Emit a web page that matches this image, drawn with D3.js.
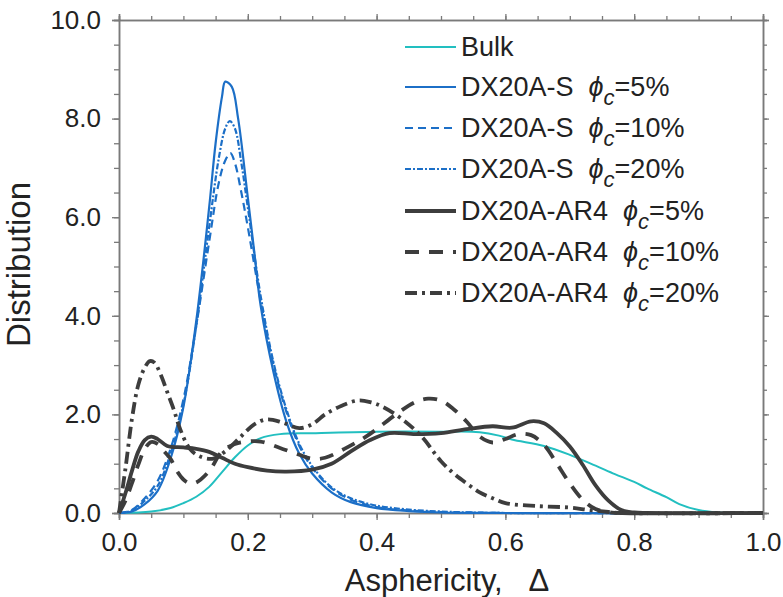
<!DOCTYPE html>
<html><head><meta charset="utf-8">
<script src="https://cdn.jsdelivr.net/npm/d3@7"></script>
<style>body{margin:0;background:#fff}svg{display:block}text{font-family:"Liberation Sans",Arial,sans-serif;fill:#222}</style>
</head><body><svg id="c" width="783" height="597"></svg>
<script>
// ---- data ----
const xTicks = [0, 0.2, 0.4, 0.6, 0.8, 1.0];
const yTicks = [0, 2, 4, 6, 8, 10];
const legendLabels = ["Bulk", "DX20A-S", "DX20A-S", "DX20A-S", "DX20A-AR4", "DX20A-AR4", "DX20A-AR4"];
const legendPhi = [null, "5%", "10%", "20%", "5%", "10%", "20%"];

const bulk = [[0,0],[0.05,0.03],[0.08,0.1],[0.1,0.2],[0.12,0.33],[0.14,0.53],[0.16,0.83],[0.18,1.13],[0.2,1.37],[0.22,1.52],[0.25,1.6],[0.3,1.62],[0.4,1.65],[0.5,1.65],[0.56,1.64],[0.59,1.57],[0.61,1.49],[0.66,1.36],[0.7,1.18],[0.74,0.96],[0.77,0.79],[0.8,0.63],[0.82,0.5],[0.85,0.32],[0.87,0.18],[0.9,0.06],[0.93,0.01],[0.95,0],[1.0,0]];
const s5 = [[0,0],[0.02,0.03],[0.04,0.18],[0.06,0.45],[0.08,1.1],[0.1,2.15],[0.12,3.9],[0.14,6.2],[0.15,7.5],[0.16,8.45],[0.165,8.75],[0.175,8.65],[0.185,8.0],[0.2,6.4],[0.21,5.3],[0.22,4.2],[0.24,2.85],[0.26,1.85],[0.28,1.2],[0.3,0.8],[0.33,0.42],[0.36,0.22],[0.4,0.1],[0.45,0.04],[0.5,0.01],[0.6,0],[1.0,0]];
const s10 = [[0,0],[0.02,0.06],[0.04,0.3],[0.06,0.65],[0.08,1.3],[0.1,2.3],[0.12,3.8],[0.14,5.5],[0.155,6.7],[0.165,7.15],[0.173,7.3],[0.18,7.1],[0.19,6.5],[0.2,5.8],[0.22,4.3],[0.24,3.0],[0.26,2.05],[0.28,1.36],[0.3,0.92],[0.33,0.5],[0.36,0.27],[0.4,0.12],[0.45,0.05],[0.5,0.02],[0.6,0],[1.0,0]];
const s20 = [[0,0],[0.02,0.05],[0.04,0.25],[0.06,0.55],[0.08,1.2],[0.1,2.2],[0.12,3.8],[0.14,5.8],[0.155,7.2],[0.165,7.8],[0.172,7.95],[0.18,7.8],[0.19,7.1],[0.2,6.2],[0.22,4.4],[0.24,3.05],[0.26,2.1],[0.28,1.4],[0.3,0.95],[0.33,0.52],[0.36,0.3],[0.4,0.15],[0.45,0.07],[0.5,0.03],[0.55,0.01],[0.6,0],[1.0,0]];
const a5 = [[0,0],[0.01,0.4],[0.02,0.85],[0.03,1.25],[0.04,1.48],[0.05,1.55],[0.06,1.5],[0.075,1.36],[0.1,1.33],[0.12,1.3],[0.14,1.24],[0.16,1.12],[0.18,1.0],[0.2,0.93],[0.23,0.86],[0.26,0.84],[0.3,0.88],[0.33,1.0],[0.36,1.25],[0.39,1.48],[0.42,1.62],[0.46,1.6],[0.5,1.62],[0.54,1.7],[0.58,1.76],[0.61,1.73],[0.64,1.86],[0.66,1.82],[0.68,1.62],[0.7,1.35],[0.72,0.98],[0.74,0.56],[0.76,0.25],[0.78,0.06],[0.8,0.01],[0.82,0],[1.0,0]];
const a10 = [[0,0],[0.01,0.25],[0.02,0.6],[0.03,0.98],[0.04,1.3],[0.05,1.44],[0.06,1.4],[0.07,1.25],[0.08,1.1],[0.09,0.85],[0.1,0.68],[0.11,0.6],[0.12,0.62],[0.14,0.85],[0.16,1.25],[0.18,1.4],[0.2,1.45],[0.22,1.45],[0.25,1.32],[0.28,1.18],[0.3,1.1],[0.32,1.12],[0.35,1.3],[0.38,1.52],[0.4,1.7],[0.43,2.0],[0.46,2.25],[0.48,2.32],[0.5,2.28],[0.52,2.1],[0.54,1.85],[0.56,1.55],[0.58,1.43],[0.6,1.5],[0.62,1.6],[0.64,1.58],[0.66,1.38],[0.68,1.0],[0.7,0.6],[0.72,0.27],[0.74,0.08],[0.76,0.02],[0.78,0],[1.0,0]];
const a20 = [[0,0],[0.01,0.9],[0.02,1.9],[0.03,2.6],[0.04,2.95],[0.048,3.08],[0.055,3.05],[0.065,2.8],[0.075,2.45],[0.085,2.1],[0.095,1.7],[0.11,1.3],[0.125,1.15],[0.145,1.1],[0.165,1.25],[0.19,1.56],[0.21,1.8],[0.23,1.9],[0.255,1.83],[0.28,1.72],[0.3,1.8],[0.32,2.0],[0.345,2.17],[0.37,2.28],[0.39,2.25],[0.41,2.15],[0.44,1.9],[0.47,1.55],[0.5,1.05],[0.52,0.8],[0.54,0.6],[0.56,0.42],[0.58,0.3],[0.6,0.2],[0.65,0.14],[0.7,0.11],[0.73,0.06],[0.76,0.02],[0.78,0],[1.0,0]];

// ---- styles ----
const TEAL = "#22bfc0", BLUE = "#1c6fc7", DARK = "#3d3d3d";
const series = [
  {d: bulk, color: TEAL, w: 2, dash: null},
  {d: s5, color: BLUE, w: 2.2, dash: null},
  {d: s10, color: BLUE, w: 2.2, dash: "8,5"},
  {d: s20, color: BLUE, w: 2.2, dash: "6,2,2,2"},
  {d: a5, color: DARK, w: 3.8, dash: null},
  {d: a10, color: DARK, w: 3.8, dash: "14,10"},
  {d: a20, color: DARK, w: 3.8, dash: "12,5,3,5"}
];

const L = 119, R = 763, T = 20, B = 513;
const svg = d3.select("#c");
const x = d3.scaleLinear().domain([0, 1]).range([L, R]);
const y = d3.scaleLinear().domain([0, 10]).range([B, T]);
const AX = "#7a7a7a";
const FF = '"Liberation Sans", Arial, sans-serif';

// axes
const gx = svg.append("g").attr("transform", `translate(0,${B})`)
  .call(d3.axisBottom(x).tickValues(d3.range(0, 1.0001, 0.05)).tickSize(5).tickFormat(""));
const gxl = svg.append("g").attr("transform", `translate(0,${B})`)
  .call(d3.axisBottom(x).tickValues(xTicks).tickSize(7).tickFormat(d3.format(".1f")));
const gxt = svg.append("g").attr("transform", `translate(0,${T})`)
  .call(d3.axisTop(x).tickValues(d3.range(0, 1.0001, 0.05)).tickSize(4).tickFormat(""));
const gxt2 = svg.append("g").attr("transform", `translate(0,${T})`)
  .call(d3.axisTop(x).tickValues(xTicks).tickSize(6).tickFormat(""));
const gy = svg.append("g").attr("transform", `translate(${L},0)`)
  .call(d3.axisLeft(y).tickValues(d3.range(0, 10.001, 0.5)).tickSize(5).tickFormat(""));
const gyl = svg.append("g").attr("transform", `translate(${L},0)`)
  .call(d3.axisLeft(y).tickValues(yTicks).tickSize(7).tickFormat(d3.format(".1f")));
const gyr = svg.append("g").attr("transform", `translate(${R},0)`)
  .call(d3.axisRight(y).tickValues(d3.range(0, 10.001, 0.5)).tickSize(4).tickFormat(""));
const gyr2 = svg.append("g").attr("transform", `translate(${R},0)`)
  .call(d3.axisRight(y).tickValues(yTicks).tickSize(6).tickFormat(""));
[gx, gxl, gxt, gxt2, gy, gyl, gyr, gyr2].forEach(g => {
  g.selectAll("path.domain").attr("stroke", AX).attr("stroke-width", 1.5);
  g.selectAll(".tick line").attr("stroke", AX).attr("stroke-width", 1.3);
});
gxl.selectAll("text").attr("font-size", 26).attr("y", 16).attr("dy", "0.85em").attr("fill", "#222")
  .style("font-family", FF);
gyl.selectAll("text").attr("font-size", 26).attr("x", -18).attr("fill", "#222")
  .style("font-family", FF);

// axis titles
svg.append("text").attr("x", 447).attr("y", 591).attr("text-anchor", "middle").attr("font-size", 31)
  .attr("xml:space", "preserve").text("Asphericity,   Δ");
svg.append("text").attr("transform", `translate(30,${(T + B) / 2 - 2}) rotate(-90)`).attr("text-anchor", "middle")
  .attr("font-size", 33).text("Distribution");

// curves
const line = d3.line().x(d => x(d[0])).y(d => y(d[1])).curve(d3.curveCatmullRom.alpha(0.5));
const plot = svg.append("g");
series.forEach(s => {
  plot.append("path").datum(s.d).attr("d", line).attr("fill", "none")
    .attr("stroke", s.color).attr("stroke-width", s.w)
    .attr("stroke-dasharray", s.dash).attr("stroke-linejoin", "round");
});

// legend
const lg = svg.append("g");
const rowY = [47, 87, 128, 169, 211, 252, 293];
series.forEach((s, i) => {
  const yy = rowY[i];
  lg.append("line").attr("x1", 405).attr("x2", 456).attr("y1", yy).attr("y2", yy)
    .attr("stroke", s.color).attr("stroke-width", s.w).attr("stroke-dasharray", s.dash);
  const t = lg.append("text").attr("x", 461).attr("y", yy + 9).attr("font-size", 27);
  t.append("tspan").text(legendLabels[i]);
  if (legendPhi[i]) {
    t.append("tspan").attr("dx", 15).attr("font-style", "italic").text("ϕ");
    t.append("tspan").attr("font-style", "italic").attr("font-size", 22).attr("dy", 9).text("c");
    t.append("tspan").attr("dy", -9).text("=" + legendPhi[i]);
  }
});
</script></body></html>
